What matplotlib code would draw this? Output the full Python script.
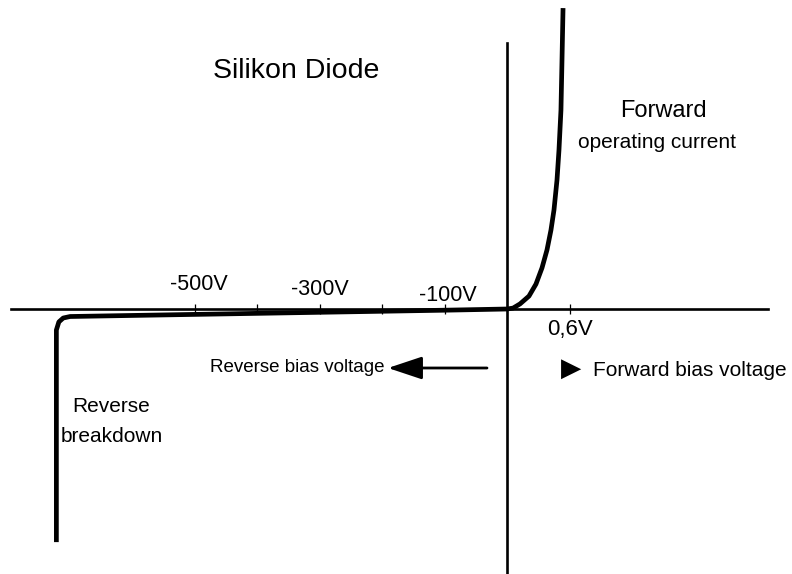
import numpy as np
import matplotlib
matplotlib.use("Agg")
import matplotlib.pyplot as plt
from matplotlib.ticker import NullLocator

plt.rcParams['font.family'] = ['Liberation Sans', 'DejaVu Sans']

# forward branch (volts, arbitrary current units)
fwd_v = [0.0, 0.058, 0.125, 0.211, 0.278, 0.336, 0.384, 0.422, 0.451, 0.480, 0.499, 0.518, 0.528, 0.538]
fwd_i = [0.0, 0.3, 1.7, 4.3, 8.3, 13.7, 19.7, 26.3, 33.0, 43.0, 53.0, 66.3, 83.0, 100.3]

# reverse branch: leakage, knee and breakdown
rev_v = [0.0, -100, -300, -500, -699, -710, -717, -721, -721]
rev_i = [0.0, -0.4, -1.1, -1.8, -2.5, -3.0, -4.3, -7.0, -77.7]

major_ticks = [-500, -400, -300, -200, -100, 0.6]
neg_labels = [-500, -300, -100]
pos_labels = [0.6]


# negative volts are drawn per 100 V, positive volts per 0.6 V
def to_units(v):
    v = np.asarray(v, dtype=float)
    return np.where(v < 0, v / 100.0, v / 0.6)


def from_units(u):
    u = np.asarray(u, dtype=float)
    return np.where(u < 0, u * 100.0, u * 0.6)


fig = plt.figure(figsize=(7.92, 5.74), dpi=100)
ax = fig.add_axes([0, 0, 1, 1])
ax.set_xscale('function', functions=(to_units, from_units))
ax.set_xlim(-811.2, 2.736)
ax.set_ylim(-88.33, 103.0)

v = rev_v[::-1] + fwd_v[1:]
i = rev_i[::-1] + fwd_i[1:]
ax.plot(v, i, color='black', lw=3.4, solid_capstyle='butt', solid_joinstyle='round')

for side in ['top', 'right']:
    ax.spines[side].set_visible(False)
ax.spines['bottom'].set_position(('data', 0))
ax.spines['left'].set_position(('data', 0))
ax.spines['bottom'].set_bounds(-793.6, 2.506)
ax.spines['left'].set_bounds(-88.33, 88.7)
ax.spines['bottom'].set_linewidth(1.9)
ax.spines['left'].set_linewidth(1.9)

ax.set_xticks(major_ticks)
ax.set_xticklabels([])
ax.xaxis.set_minor_locator(NullLocator())
ax.tick_params(axis='x', direction='inout', length=7, width=0.9)
ax.set_yticks([])

# staggered labels above the negative axis
rise = {-500: 19, -300: 14, -100: 8}
shift = {-500: 4, -300: 0, -100: 3}
for t in neg_labels:
    ax.annotate('%dV' % t, xy=(t, 0), xytext=(shift[t], rise[t]),
                textcoords='offset pixels', ha='center', va='baseline', fontsize=15.5)
for t in pos_labels:
    ax.annotate(('%.1fV' % t).replace('.', ','), xy=(t, 0), xytext=(1, -10),
                textcoords='offset pixels', ha='center', va='top', fontsize=16)

W, H = 792.0, 574.0


def place(px, py, s, **kw):
    ax.text(px / W, 1 - py / H, s, transform=ax.transAxes, **kw)


place(296, 78, 'Silikon Diode', fontsize=20.5, ha='center', va='baseline')
place(663, 117, 'Forward', fontsize=17, ha='center', va='baseline')
place(657, 148, 'operating current', fontsize=15, ha='center', va='baseline')
place(111, 412, 'Reverse', fontsize=15, ha='center', va='baseline')
place(112, 442, 'breakdown', fontsize=15, ha='center', va='baseline')
place(385, 367, 'Reverse bias voltage', fontsize=13.5, ha='right', va='center')
place(593, 370, 'Forward bias voltage', fontsize=15, ha='left', va='center')
place(571, 369, '\u25B6', fontsize=19, ha='center', va='center', family='DejaVu Sans')

ax.annotate('', xy=(388 / W, 1 - 368 / H), xytext=(487 / W, 1 - 368 / H),
            xycoords='axes fraction', textcoords='axes fraction',
            arrowprops=dict(arrowstyle='-|>,head_length=1.5,head_width=0.5',
                            color='black', lw=2, mutation_scale=14, shrinkA=0, shrinkB=0))

fig.savefig('out.png', dpi=100)
